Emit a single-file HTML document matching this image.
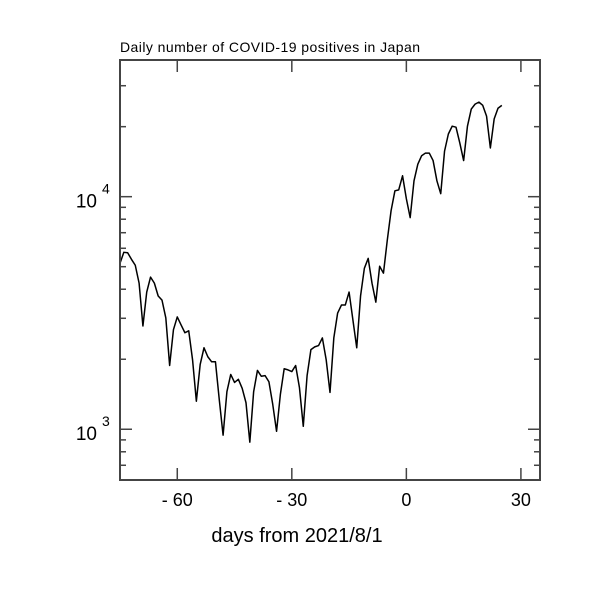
<!DOCTYPE html>
<html><head><meta charset="utf-8"><style>
html,body{margin:0;padding:0;background:#fff;}
svg text{font-family:"Liberation Sans",sans-serif;fill:#000;}
</style></head><body>
<svg id="chart" width="600" height="600" xmlns="http://www.w3.org/2000/svg">
<rect width="600" height="600" fill="#fff"/>
<text x="120" y="52" font-size="14" textLength="300">Daily number of COVID-19 positives in Japan</text>
<text x="297" y="542" font-size="20" text-anchor="middle">days from 2021/8/1</text>
<g id="ticks"></g>
<path id="line" fill="none" stroke="#000" stroke-width="1.5" stroke-linejoin="round"/>
<rect x="120" y="60" width="420" height="420" fill="none" stroke="#444" stroke-width="2"/>
</svg>
<script>
const startDay = -75;
const positives = [5170,5765,5740,5380,5070,4250,2780,3890,4510,4250,3740,3590,3010,1880,2680,3040,2810,2600,2650,1990,1320,1900,2240,2050,1950,1950,1340,943,1450,1720,1590,1640,1500,1300,880,1450,1790,1690,1700,1600,1280,980,1410,1820,1800,1770,1880,1510,1030,1700,2200,2260,2290,2470,1990,1440,2470,3160,3420,3420,3890,2950,2240,3740,4920,5430,4250,3520,5020,4690,6490,8710,10600,10700,12300,9800,8130,11700,13800,15000,15400,15400,14300,11700,10300,15700,18600,20100,19900,17000,14300,20100,23800,25000,25500,24700,22200,16200,21600,24000,24700];
const xTicks = [-60,-30,0,30];
const xTickLabels = ["- 60","- 30","0","30"];
const yMajor = [1000,10000];
const yMajorExp = ["3","4"];
const yMinor = [700,800,900,2000,3000,4000,5000,6000,7000,8000,9000,20000,30000];

const X0=120,X1=540,Y0=60,Y1=480, xmin=-75,xmax=35;
const lmin=Math.log10(605), lmax=Math.log10(38700);
const xs=d=>X0+(d-xmin)/(xmax-xmin)*(X1-X0);
const ys=v=>Y1-(Math.log10(v)-lmin)/(lmax-lmin)*(Y1-Y0);
const NS="http://www.w3.org/2000/svg";
const g=document.getElementById('ticks');
function ln(x1,y1,x2,y2){const l=document.createElementNS(NS,'line');l.setAttribute('x1',x1);l.setAttribute('y1',y1);l.setAttribute('x2',x2);l.setAttribute('y2',y2);l.setAttribute('stroke','#444');l.setAttribute('stroke-width','1.5');g.appendChild(l);return l;}
function tx(x,y,s,size,anchor){const t=document.createElementNS(NS,'text');t.setAttribute('x',x);t.setAttribute('y',y);t.setAttribute('font-size',size);t.setAttribute('text-anchor',anchor);t.textContent=s;g.appendChild(t);return t;}
xTicks.forEach((d,i)=>{
  const x=xs(d);
  let a=ln(x,Y1,x,Y1-12);
  
  
  let b=ln(x,Y0,x,Y0+12);
  
  
  let t=tx(x,506,xTickLabels[i],18,'middle');
  
  
});
yMajor.forEach((v,i)=>{
  const y=ys(v);
  let a=ln(X0,y,X0+12,y);
  
  
  let b=ln(X1,y,X1-12,y);
  
  
  let t=tx(97,y+11,'10',19,'end');
  
  
  let e=tx(102,y-3,yMajorExp[i],14,'start');
  
  
});
yMinor.forEach(v=>{
  const y=ys(v);
  let a=ln(X0,y,X0+6,y);
  
  
  let b=ln(X1,y,X1-6,y);
  
  
});
document.getElementById('line').setAttribute('d',positives.map((v,i)=>(i?'L':'M')+xs(startDay+i).toFixed(2)+','+ys(v).toFixed(2)).join(''));
</script>
</body></html>
